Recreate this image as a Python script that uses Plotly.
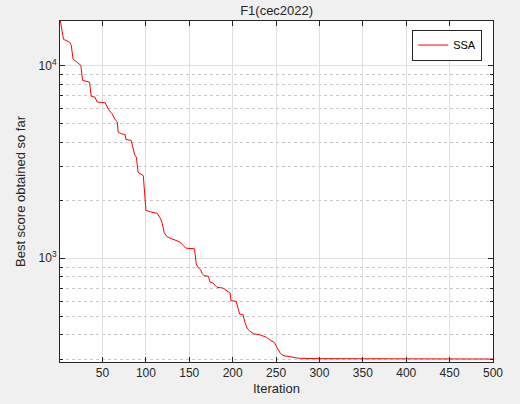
import plotly.graph_objects as go

iterations = [1, 5, 12, 14, 16, 20, 25, 27, 35, 37, 41, 44, 53, 57, 61, 65, 67, 68, 72, 76, 77, 83, 85, 87, 89, 91, 97,
              100, 105, 113, 117, 119, 121, 124, 130, 139, 143, 146, 156, 158, 160, 163, 165, 167, 172, 174, 177,
              182, 189, 195, 197, 198, 204, 208, 212, 214, 217, 220, 224, 232, 239, 243, 248, 251, 255, 258, 266,
              276, 300, 350, 400, 500]
best_score = [17500, 13650, 13200, 12700, 10800, 10400, 10000, 8360, 8190, 6900, 6850, 6450, 6400, 5890, 5610, 5190,
              5090, 4510, 4420, 4380, 4130, 4080, 3700, 3440, 3340, 2790, 2680,
              1770, 1740, 1710, 1600, 1510, 1357, 1298, 1260, 1215, 1165, 1128, 1120, 935, 898, 871, 830, 813, 806,
              750, 745, 707, 700, 675, 660, 603, 598, 514, 510, 466, 430, 418, 406, 400, 389, 377, 366, 345, 321,
              313, 309, 303, 301.5, 300.8, 300.4, 300.2]

x_ticks = [50, 100, 150, 200, 250, 300, 350, 400, 450, 500]
y_ticks = [1000, 10000]
y_tick_text = ["10<sup>3</sup>", "10<sup>4</sup>"]
y_minor = [200, 300, 400, 500, 600, 700, 800, 900, 2000, 3000, 4000, 5000, 6000, 7000, 8000, 9000]

font = "Liberation Sans, Arial, Helvetica, sans-serif"

fig = go.Figure()
fig.add_trace(go.Scatter(x=iterations, y=best_score, mode="lines", name="SSA",
                         line=dict(color="#ff0000", width=1)))

fig.update_layout(
    width=520, height=404,
    margin=dict(l=60, r=27, t=21, b=42, autoexpand=False),
    paper_bgcolor="#f0f0f0", plot_bgcolor="white",
    font=dict(family=font, size=12, color="#262626"),
    title=dict(text="F1(cec2022)", x=0.532, xanchor="center", y=0.975, yanchor="middle",
               font=dict(size=13, color="#262626")),
    showlegend=True,
    legend=dict(x=0.975, xanchor="right", y=0.975, yanchor="top",
                bgcolor="white", bordercolor="#262626", borderwidth=1,
                font=dict(size=11, color="#000000"), tracegroupgap=0),
)
fig.update_xaxes(
    range=[1, 500], tickvals=x_ticks, ticks="inside", ticklen=5, tickcolor="#262626",
    showline=True, linecolor="#262626", linewidth=1, mirror="ticks",
    showgrid=True, gridcolor="#dfdfdf", gridwidth=1, zeroline=False,
    title=dict(text="Iteration", font=dict(size=13), standoff=4),
)
fig.update_yaxes(
    type="log", range=[2.462, 4.230], tickvals=y_ticks, ticktext=y_tick_text,
    ticks="inside", ticklen=5, tickcolor="#262626",
    showline=True, linecolor="#262626", linewidth=1, mirror="ticks",
    showgrid=True, gridcolor="#dfdfdf", gridwidth=1, zeroline=False,
    minor=dict(tickvals=y_minor, ticks="inside", ticklen=3, tickcolor="#262626",
               showgrid=True, gridcolor="#c8c8c8", griddash="dot", gridwidth=1),
    title=dict(text="Best score obtained so far", font=dict(size=13), standoff=10),
)

fig.write_html("out.html", config={"displayModeBar": False},
               post_script="document.body.style.margin='0';document.body.style.background='#f0f0f0';")
